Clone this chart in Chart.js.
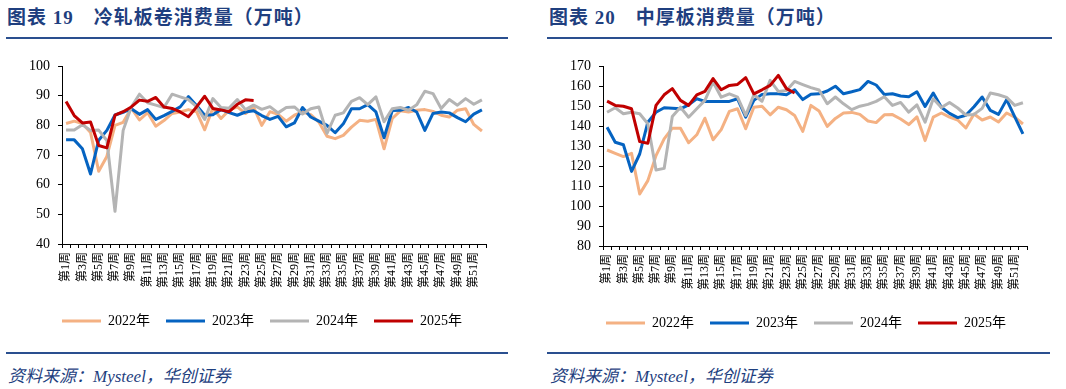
<!DOCTYPE html>
<html>
<head>
<meta charset="utf-8">
<script src="https://cdn.jsdelivr.net/npm/chart.js@4.4.1/dist/chart.umd.min.js"></script>
<style>
  body { margin: 0; width: 1066px; height: 389px; background: #fff; position: relative; overflow: hidden;
         font-family: "Liberation Serif", "Noto Sans CJK SC", serif; }
  .title { position: absolute; top: 2px; font-size: 19px; font-weight: bold; color: #1f3f7f; letter-spacing: 1px; white-space: nowrap; }
  .title span { margin-left: 20px; }
  .rule { position: absolute; height: 2px; background: #2a4f8f; }
  .src { position: absolute; top: 362px; font-size: 17px; font-style: italic; color: #1f3f7f; white-space: nowrap; }
  .box { position: absolute; top: 45px; height: 300px; }
</style>
</head>
<body>
<div class="title" style="left:7px">图表 19<span>冷轧板卷消费量（万吨）</span></div>
<div class="rule" style="left:6px;width:502px;top:37px"></div>
<div class="box" style="left:0;width:519px"><canvas id="c1"></canvas></div>
<div class="rule" style="left:6px;width:502px;top:352px"></div>
<div class="src" style="left:8px">资料来源：Mysteel，华创证券</div>

<div class="title" style="left:549px">图表 20<span>中厚板消费量（万吨）</span></div>
<div class="rule" style="left:547px;width:505px;top:37px"></div>
<div class="box" style="left:541px;width:520px"><canvas id="c2"></canvas></div>
<div class="rule" style="left:547px;width:503px;top:352px"></div>
<div class="src" style="left:550px">资料来源：Mysteel，华创证券</div>

<script>
// 周次
var weeks = [];
for (var i = 1; i <= 52; i++) weeks.push('第' + i + '周');
var years = ['2022年', '2023年', '2024年', '2025年'];

// 冷轧板卷消费量（万吨）
var cold2022 = [80.6, 81.4, 80.6, 77.6, 64.5, 69.5, 80.0, 81.0, 85.8, 81.8, 84.3, 79.7, 81.6, 84.0, 84.5, 85.3, 84.6, 78.5, 85.8, 82.3, 85.1, 86.2, 84.0, 86.1, 80.0, 84.6,
                83.7, 81.4, 83.4, 84.5, 83.6, 81.1, 76.3, 75.5, 76.6, 79.4, 81.7, 81.4, 82.0, 72.1, 82.3, 84.9, 84.5, 85.1, 85.3, 84.7, 83.4, 82.8, 85.1, 85.6, 80.3, 78.1];
var cold2023 = [75.1, 75.1, 72.1, 63.6, 75.0, 78.3, 83.5, 84.4, 85.6, 83.7, 85.3, 82.0, 83.3, 84.7, 86.2, 89.7, 86.7, 83.4, 83.6, 85.3, 84.3, 83.4, 84.5, 84.9, 83.3, 82.0,
                83.0, 79.5, 80.8, 86.0, 82.8, 81.4, 80.0, 77.5, 80.5, 85.6, 85.6, 87.0, 84.5, 75.8, 85.0, 85.1, 86.0, 84.5, 78.3, 84.0, 84.5, 84.2, 82.6, 81.2, 83.8, 85.2];
var cold2024 = [78.4, 78.4, 80.2, 78.3, 78.4, 74.9, 51.0, 78.3, 86.2, 90.5, 87.6, 86.8, 86.0, 90.5, 89.6, 88.7, 86.3, 82.0, 89.0, 86.0, 85.8, 88.7, 85.3, 86.8, 85.4, 86.3,
                84.2, 86.0, 86.2, 83.8, 85.6, 86.2, 77.3, 83.4, 84.2, 88.1, 89.3, 87.0, 89.6, 81.2, 85.6, 86.0, 85.1, 86.9, 91.5, 90.7, 85.7, 88.7, 86.8, 89.0, 87.1, 88.6];
var cold2025 = [88.0, 83.3, 80.8, 81.1, 73.2, 72.4, 83.4, 84.6, 86.2, 88.5, 88.1, 89.4, 86.2, 85.7, 84.5, 82.9, 86.2, 89.8, 85.7, 85.2, 84.6, 87.1, 88.6, 88.4];

// 中厚板消费量（万吨）
var plate2022 = [128.0, 126.3, 124.7, 126.3, 106.0, 112.7, 125.2, 133.6, 138.9, 138.9, 131.6, 135.6, 143.9, 133.1, 138.2, 147.3, 148.6, 138.6, 149.4, 149.9, 145.6, 149.4, 148.1, 145.3, 137.3, 150.3,
                 147.5, 139.8, 143.8, 146.5, 146.8, 145.8, 142.5, 141.7, 145.6, 145.7, 143.5, 140.7, 144.6, 132.7, 144.4, 146.5, 144.4, 143.0, 139.0, 146.0, 143.0, 144.5, 142.0, 146.5, 144.4, 141.0];
var plate2023 = [139.4, 131.9, 130.6, 117.3, 126.0, 141.9, 146.9, 149.1, 148.9, 148.6, 150.6, 153.6, 152.3, 152.3, 152.3, 152.3, 153.6, 144.4, 152.8, 155.8, 156.1, 156.1, 155.6, 158.1, 153.2, 155.9,
                 156.1, 157.5, 159.9, 156.1, 157.1, 158.2, 162.3, 160.5, 155.8, 156.1, 155.0, 154.6, 157.1, 149.8, 156.5, 149.4, 146.3, 144.2, 145.4, 149.6, 154.5, 147.8, 145.8, 153.2, 144.6, 136.1];
var plate2024 = [146.9, 149.1, 146.1, 146.9, 146.1, 141.1, 118.0, 118.8, 144.8, 149.4, 144.4, 148.6, 152.8, 162.0, 154.4, 156.1, 154.4, 145.3, 155.6, 152.4, 162.8, 157.3, 157.8, 162.3, 160.7, 159.2,
                 158.0, 151.1, 154.5, 151.1, 148.2, 149.9, 150.8, 152.3, 154.6, 150.3, 151.8, 146.9, 150.6, 141.9, 153.6, 149.2, 151.8, 149.0, 145.5, 145.8, 148.8, 156.5, 155.6, 154.3, 150.3, 151.6];
var plate2025 = [152.4, 150.3, 149.9, 148.6, 132.2, 131.4, 150.3, 155.6, 158.7, 152.8, 150.3, 155.6, 157.3, 163.7, 158.1, 160.3, 160.8, 164.2, 156.1, 158.1, 160.3, 165.3, 158.7, 156.5];

var colors = ['#f4b183', '#0563c1', '#b4b4b4', '#c00000'];

Chart.defaults.font.family = '"Liberation Serif", "Noto Sans CJK SC", serif';
Chart.defaults.color = '#000';

// the original legend sits a little right of the canvas centre
var shiftLegend = {
  id: 'shiftLegend',
  afterLayout: function(chart, args, opts) {
    chart.legend.left += opts.dx;
    chart.legend.right += opts.dx;
  }
};

function makeChart(id, series, yMin, yMax, padR, padB, dx) {
  var datasets = series.map(function(data, k) {
    return {
      label: years[k],
      data: data,
      borderColor: colors[k],
      backgroundColor: colors[k],
      borderWidth: 3,
      pointRadius: 0,
      tension: 0,
      borderJoinStyle: 'round',
      order: 4 - k
    };
  });
  return new Chart(document.getElementById(id), {
    type: 'line',
    data: { labels: weeks, datasets: datasets },
    plugins: [shiftLegend],
    options: {
      responsive: true,
      maintainAspectRatio: false,
      animation: false,
      layout: { padding: { top: 21, right: padR, bottom: padB, left: 0 } },
      plugins: {
        tooltip: { enabled: false },
        shiftLegend: { dx: dx },
        legend: {
          position: 'bottom',
          labels: {
            usePointStyle: true,
            pointStyle: 'line',
            pointStyleWidth: 39,
            padding: 16,
            font: { size: 14 },
            sort: function(a, b) { return a.datasetIndex - b.datasetIndex; }
          }
        }
      },
      scales: {
        x: {
          offset: true,
          grid: { offset: true, drawOnChartArea: false, tickLength: 4, color: '#000' },
          border: { color: '#000' },
          ticks: {
            autoSkip: false, maxRotation: 90, minRotation: 90, padding: 4,
            font: { size: 12 },
            callback: function(v, i) { return i % 2 === 0 ? weeks[i] : ''; }
          },
          afterFit: function(s) { s.height = 54; }
        },
        y: {
          min: yMin, max: yMax,
          grid: { drawOnChartArea: false, tickLength: 4, color: '#000' },
          border: { color: '#000' },
          ticks: { count: (yMax - yMin) / 10 + 1, padding: 8, font: { size: 14 } },
          afterFit: function(s) { s.width = 62; }
        }
      }
    }
  });
}

makeChart('c1', [cold2022, cold2023, cold2024, cold2025], 40, 100, 33, 7, 19);
makeChart('c2', [plate2022, plate2023, plate2024, plate2025], 80, 170, 34, 5, 22);
</script>
</body>
</html>
